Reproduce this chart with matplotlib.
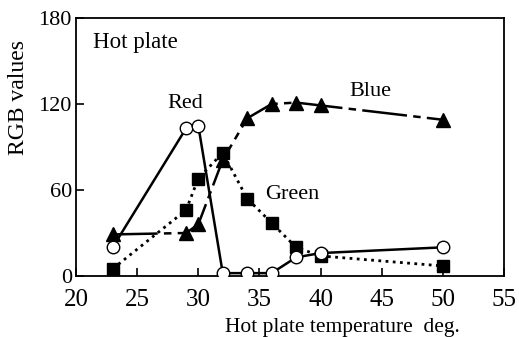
import matplotlib.pyplot as plt

plt.rcParams['font.family'] = ['Liberation Serif', 'DejaVu Serif']

# Hot plate temperature (deg.)
temps = [23, 29, 30, 32, 34, 36, 38, 40, 50]

# RGB values
red = [20, 103, 105, 2, 2, 2, 13, 16, 20]
green = [5, 46, 68, 86, 54, 37, 20, 14, 7]
blue = [29, 30, 36, 81, 110, 120, 121, 119, 109]

x_ticks = [20, 25, 30, 35, 40, 45, 50, 55]
y_ticks = [0, 60, 120, 180]

fig = plt.figure(figsize=(5.19, 3.37), dpi=100)
ax = fig.add_axes([76 / 519, 1 - 276 / 337, 428 / 519, 258 / 337])

# --- Red: open circles, solid line ---
ax.plot(temps, red, color='black', linestyle='-', linewidth=1.8,
        marker='o', markersize=9, markerfacecolor='white', markeredgecolor='black',
        markeredgewidth=1.0, zorder=3)
# --- Green: filled squares, dotted line ---
ax.plot(temps, green, color='black', linestyle=(0, (1, 1.6)), linewidth=2.0,
        marker='s', markersize=8.5, markerfacecolor='black', zorder=2)
# --- Blue: filled triangles, long dash-dot line ---
ax.plot(temps, blue, color='black', linestyle=(0, (18, 2.5, 3, 2.5)), linewidth=1.8,
        marker='^', markersize=10, markerfacecolor='black', zorder=2)

ax.text(21.4, 163, 'Hot plate', fontsize=16.5, va='center', ha='left')
ax.text(28.9, 120, 'Red', fontsize=16, va='center', ha='center')
ax.text(44.1, 129, 'Blue', fontsize=16, va='center', ha='center')
ax.text(37.7, 57, 'Green', fontsize=16, va='center', ha='center')

ax.set_xlim(20, 55)
ax.set_ylim(0, 180)
ax.set_xticks(x_ticks)
ax.set_yticks(y_ticks)
ax.tick_params(direction='in', length=6, width=1.2)
ax.tick_params(axis='x', labelsize=18, pad=9)
ax.tick_params(axis='y', labelsize=16, pad=3)
for sp in ax.spines.values():
    sp.set_linewidth(1.3)

ax.set_ylabel('RGB values', fontsize=17)
ax.yaxis.set_label_coords(-47 / 428, 0.69)
ax.set_xlabel('Hot plate temperature  deg.', fontsize=15.5)
ax.xaxis.set_label_coords((342 - 76) / 428, -42 / 258)

fig.savefig('out.png', dpi=100)
